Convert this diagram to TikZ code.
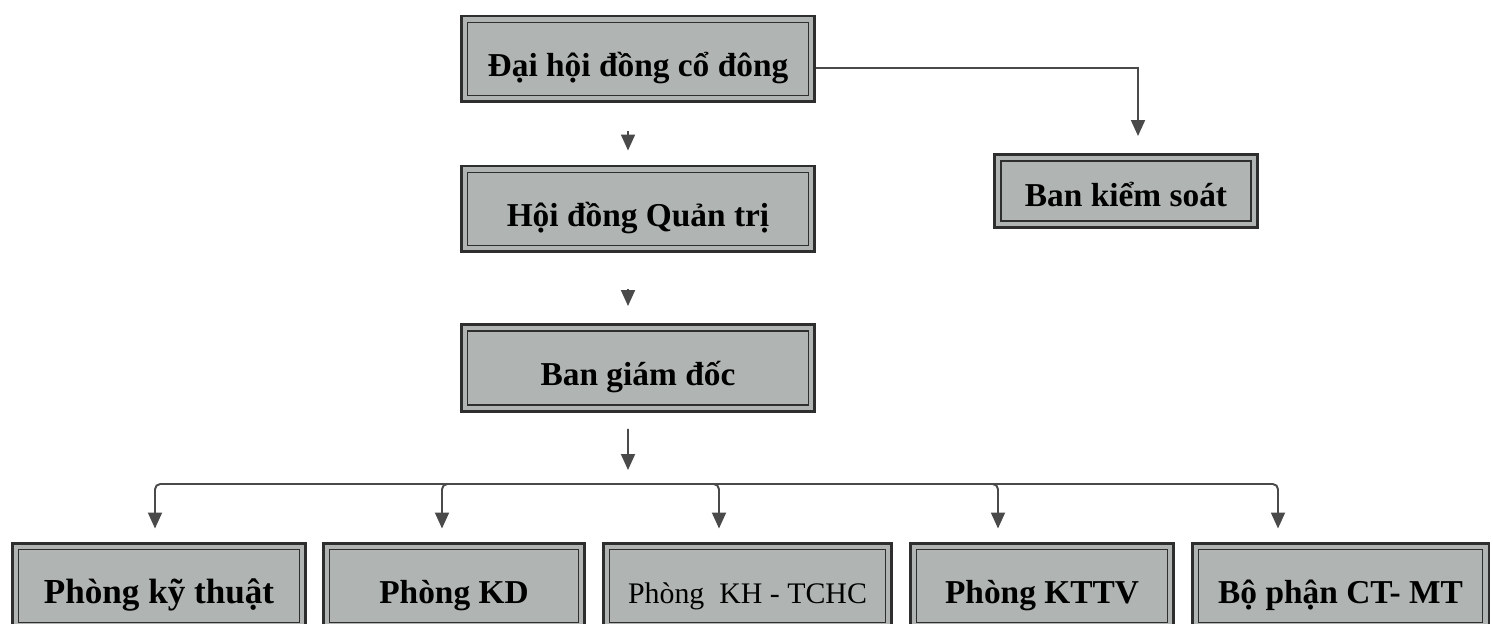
\documentclass[tikz,border=0pt]{standalone}
\usepackage{fontspec}
\setmainfont{Liberation Serif}
\usepackage{tikz}
\usetikzlibrary{arrows.meta,positioning,calc}
\definecolor{OrgGray}{HTML}{B0B5B4}
\definecolor{OrgDark}{HTML}{2E2E2E}
\definecolor{OrgLine}{HTML}{4A4A4A}
\tikzset{
  orgbox/.style={draw=OrgDark,line width=1.7pt,fill=OrgGray,align=center,inner sep=0pt,
    text height=21pt,text depth=1.6pt,
    font=\fontsize{19}{22}\selectfont\bfseries,
    path picture={\draw[OrgDark,line width=0.8pt]
      ([shift={(3.6pt,3.6pt)}]path picture bounding box.south west) rectangle
      ([shift={(-3.6pt,-3.6pt)}]path picture bounding box.north east);}},
  flowarrow/.style={-{Triangle[length=3.2mm,width=2.8mm]},line width=1.1pt,draw=OrgLine}
}
\begin{document}
\begin{tikzpicture}[x=0.02cm,y=-0.02cm]
\useasboundingbox (0,0) rectangle (1493,624);
% upper levels
\node[orgbox,minimum width=7.08cm,minimum height=1.72cm] (dhcd) at (638,59) {Đại hội đồng cổ đông};
\node[orgbox,minimum width=7.08cm,minimum height=1.72cm] (hdqt) at (638,209) {Hội đồng Quản trị};
\node[orgbox,minimum width=7.08cm,minimum height=1.74cm] (bgd) at (638,368) {Ban giám đốc};
\node[orgbox,minimum width=5.26cm,minimum height=1.46cm,text height=19pt,text depth=1.8pt] (bks) at (1126,191) {Ban kiểm soát};
% phong ban
\node[orgbox,minimum width=5.88cm,minimum height=1.72cm,font=\fontsize{20}{23}\selectfont\bfseries] (pkt) at (159,586) {Phòng kỹ thuật};
\node[orgbox,minimum width=5.24cm,minimum height=1.72cm] (pkd) at (454,586) {Phòng KD};
\node[orgbox,minimum width=5.78cm,minimum height=1.72cm,font=\fontsize{17}{20}\selectfont] (pkh) at (747.5,586) {Phòng~ KH - TCHC};
\node[orgbox,minimum width=5.28cm,minimum height=1.72cm] (pkttv) at (1042,586) {Phòng KTTV};
\node[orgbox,minimum width=5.94cm,minimum height=1.72cm] (bpct) at (1340.5,586) {Bộ phận CT- MT};
% connectors
\draw[flowarrow,shorten <=0.56cm,shorten >=0.28cm] ([xshift=-0.2cm]dhcd.south) -- ([xshift=-0.2cm]hdqt.north);
\draw[flowarrow,shorten <=0.72cm,shorten >=0.34cm] ([xshift=-0.2cm]hdqt.south) -- ([xshift=-0.2cm]bgd.north);
\draw[flowarrow,shorten >=0.34cm] ([yshift=-0.18cm]dhcd.east) -| ([xshift=0.24cm]bks.north);
\coordinate (bus) at (628,484);
\draw[flowarrow,shorten <=0.32cm,shorten >=0.28cm] ([xshift=-0.2cm]bgd.south) -- (bus);
\foreach \x/\n in {155/pkt,442/pkd,719/pkh,998/pkttv,1278/bpct}
  \draw[flowarrow,rounded corners=3pt,shorten >=0.26cm] (bus) -| (\x,0 |- \n.north);
\end{tikzpicture}
\end{document}
